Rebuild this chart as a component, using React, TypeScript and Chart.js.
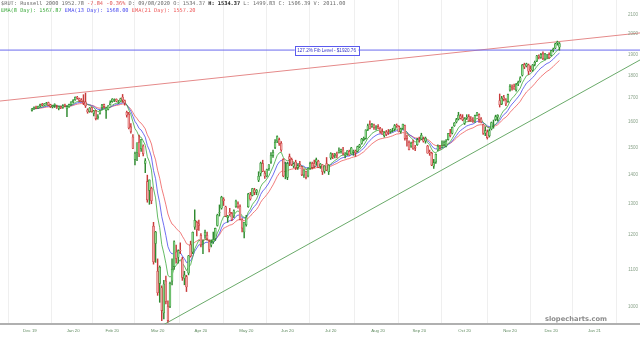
import React, { useEffect, useRef } from 'react';
import { Chart, registerables } from 'chart.js';

Chart.register(...registerables);

// Daily candles of $RUT, Dec 16 2019 .. Dec 21 2020 (index = trading day)
const opens = [
  1648,1655,1662,1658,1668,1673,1670,1677,1681,1672,1664,
  1670,1662,1656,1663,1660,1670,1655,1663,1673,1684,1693,1705,1698,1692,1684,1684,1650,1643,1660,1635,1645,
  1618,1635,1660,1672,1648,1652,1672,1685,1690,1695,1682,1688,1705,1690,1640,1632,1580,1540,1455,
  1480,1520,1495,1505,1440,1375,1345,1352,1228,1175,1095,1062,1050,985,1068,1002,1002,1068,1108,1150,1135,1155,
  1130,1075,1080,1090,1172,1150,1225,1240,1235,1200,1175,1200,1200,1180,1170,1180,1190,1230,1270,1285,1315,
  1290,1255,1272,1268,1260,1290,1300,1290,1248,1210,1232,1290,1330,1328,1346,1338,1380,1405,1440,1405,
  1395,1422,1445,1470,1500,1525,1530,1516,1455,1420,1390,1465,1455,1430,1445,1425,1438,1428,1398,1410,1395,1422,
  1440,1440,1445,1448,1430,1435,1412,1440,1410,1460,1470,1470,1475,1480,1485,1490,1472,1476,1485,1475,1485,1486,
  1485,1502,1515,1530,1535,1570,1590,1582,1588,1578,1582,1575,1560,1545,1560,1560,1562,1570,1572,1588,1582,
  1562,1575,1585,1540,1520,1505,1520,1500,1510,1532,1532,1532,1525,1505,1482,1478,1430,1445,1490,1502,1500,
  1512,1505,1530,1555,1555,1585,1600,1612,1625,1618,1595,1616,1622,1610,1605,1604,1628,1630,1612,1590,1555,1560,
  1545,1572,1590,1610,1620,1690,1675,1705,1692,1685,1735,1748,1750,1735,1762,1775,1802,1852,1845,1850,
  1830,1825,1852,1868,1892,1885,1902,1878,1895,1900,1895,1920,1930,1955,1935,
];
const highs = [
  1656,1663,1666,1666,1675,1678,1677,1682,1683,1674,1670,
  1676,1670,1665,1666,1672,1674,1668,1674,1685,1694,1706,1708,1700,1698,1715,1722,1655,1660,1662,1648,1648,
  1630,1648,1673,1675,1662,1668,1688,1698,1697,1697,1690,1700,1716,1692,1645,1640,1594,1550,1482,
  1518,1548,1530,1510,1458,1398,1381,1356,1240,1212,1130,1110,1055,1070,1082,1016,1065,1130,1183,1170,1156,1177,
  1135,1095,1084,1140,1182,1210,1280,1244,1247,1205,1186,1216,1210,1186,1186,1210,1222,1266,1296,1325,1320,
  1292,1262,1285,1272,1280,1312,1306,1296,1252,1240,1262,1335,1338,1352,1352,1348,1410,1445,1452,1412,
  1420,1436,1480,1490,1530,1545,1536,1522,1458,1445,1445,1475,1460,1442,1452,1436,1448,1430,1418,1412,1424,1445,
  1445,1452,1460,1452,1440,1436,1432,1462,1436,1480,1478,1478,1482,1498,1494,1500,1480,1488,1490,1500,1490,1490,
  1505,1512,1535,1540,1568,1592,1605,1595,1592,1586,1590,1578,1572,1560,1566,1570,1570,1575,1590,1592,1585,
  1575,1592,1588,1548,1525,1520,1528,1508,1535,1540,1555,1540,1540,1508,1490,1482,1455,1476,1510,1508,1525,
  1525,1530,1555,1570,1580,1598,1615,1640,1632,1630,1618,1630,1630,1622,1618,1628,1640,1634,1618,1592,1580,1568,
  1572,1600,1608,1628,1630,1718,1708,1712,1698,1718,1760,1758,1762,1765,1775,1795,1852,1858,1858,1854,
  1845,1852,1868,1895,1898,1905,1912,1905,1900,1908,1920,1930,1955,1965,1958,
];
const lows = [
  1645,1652,1655,1656,1664,1668,1669,1673,1668,1660,1658,
  1660,1656,1650,1655,1656,1662,1622,1660,1670,1680,1690,1696,1685,1684,1672,1660,1636,1640,1640,1625,1608,
  1612,1632,1650,1658,1615,1650,1670,1682,1685,1684,1677,1686,1682,1670,1620,1572,1555,1495,1435,
  1450,1465,1485,1468,1407,1305,1298,1300,1115,1120,1030,1012,966,970,1008,962,998,1058,1100,1118,1118,1145,
  1070,1058,1040,1085,1135,1145,1218,1198,1215,1165,1145,1190,1185,1150,1165,1175,1184,1228,1260,1282,1294,
  1258,1240,1262,1245,1255,1288,1285,1248,1210,1192,1228,1288,1312,1326,1330,1330,1375,1395,1410,1386,
  1392,1415,1440,1462,1495,1518,1508,1485,1392,1385,1382,1432,1432,1425,1418,1418,1428,1396,1390,1385,1392,1418,
  1420,1425,1435,1425,1422,1400,1405,1414,1400,1455,1458,1460,1460,1478,1478,1472,1460,1470,1470,1474,1470,1466,
  1482,1498,1512,1525,1532,1565,1572,1578,1570,1568,1572,1555,1550,1540,1545,1550,1555,1560,1565,1578,1560,
  1555,1570,1528,1505,1490,1500,1492,1488,1508,1520,1530,1520,1516,1480,1470,1432,1422,1440,1488,1492,1498,
  1505,1502,1528,1540,1552,1582,1596,1608,1612,1605,1590,1610,1602,1602,1598,1598,1625,1598,1596,1550,1545,1532,
  1540,1568,1575,1605,1605,1662,1672,1688,1668,1682,1730,1735,1738,1730,1755,1770,1798,1832,1840,1805,
  1818,1820,1845,1865,1878,1880,1875,1872,1880,1880,1892,1912,1928,1945,1920,
];
const closes = [
  1654,1661,1658,1665,1672,1670,1676,1679,1671,1664,1668,
  1672,1661,1664,1660,1667,1667,1663,1673,1683,1690,1704,1700,1690,1686,1681,1667,1641,1658,1643,1646,1614,
  1622,1646,1671,1664,1658,1667,1680,1696,1694,1687,1684,1698,1692,1679,1628,1576,1562,1497,1476,
  1518,1475,1530,1476,1450,1313,1381,1310,1122,1210,1037,1106,991,1060,1014,966,1062,1101,1180,1131,1154,1153,
  1078,1085,1052,1139,1138,1209,1246,1217,1230,1171,1178,1209,1189,1158,1177,1187,1221,1263,1271,1322,1310,
  1260,1260,1266,1248,1277,1309,1292,1250,1222,1240,1256,1333,1316,1351,1338,1346,1394,1441,1412,1394,
  1418,1435,1470,1482,1520,1542,1515,1490,1395,1420,1440,1455,1436,1439,1425,1432,1436,1399,1416,1390,1423,1441,
  1426,1431,1454,1426,1438,1410,1431,1416,1434,1477,1465,1474,1471,1487,1492,1478,1474,1487,1471,1498,1486,1480,
  1503,1510,1532,1535,1568,1585,1574,1590,1578,1580,1576,1562,1552,1558,1550,1558,1568,1570,1586,1585,1561,
  1572,1591,1535,1535,1491,1516,1495,1497,1530,1531,1547,1524,1535,1478,1480,1434,1443,1474,1504,1501,1507,
  1518,1524,1554,1545,1578,1596,1610,1628,1615,1609,1614,1620,1605,1608,1602,1626,1638,1610,1600,1555,1565,1538,
  1565,1598,1590,1622,1628,1672,1700,1695,1675,1715,1752,1745,1740,1760,1770,1790,1850,1840,1855,1820,
  1828,1850,1862,1893,1885,1900,1880,1902,1895,1884,1918,1925,1952,1960,1953,
];

const xTickIndex = [-1, 20, 39, 61, 82, 104, 124, 145, 168, 188, 210, 232, 252, 273];
const xTickLabels = ['Dec 19', 'Jan 20', 'Feb 20', 'Mar 20', 'Apr 20', 'May 20', 'Jun 20', 'Jul 20', 'Aug 20', 'Sep 20', 'Oct 20', 'Nov 20', 'Dec 20', 'Jan 21'];
const yTickValues = [1000, 1100, 1200, 1300, 1400, 1500, 1600, 1700, 1800, 1900, 2000, 2100];

const emaPeriods = [8, 13, 21];
const emaColors = ['#3daa3d', '#4a4aee', '#ee5a5a'];

const fibLevel = 1920.76;
const fibLabel = '127.2% Fib Level - $1920.76';
const fibLabelIndex = 143;
const resistanceAnchors = [[26, 1727], [255, 1962]];
const supportAnchors = [[66, 962], [221, 1510]];

const headerLine1: [string, string, boolean][] = [
  ['$RUT: Russell 2000 1952.78 ', '#6a6a6a', false],
  ['-7.84 -0.36% ', '#e05050', false],
  ['D: 09/08/2020 O: 1534.37 ', '#6a6a6a', false],
  ['H: 1534.37', '#222222', true],
  [' L: 1499.83 C: 1506.39 V: 2011.00', '#6a6a6a', false],
];
const headerLine2: [string, string, boolean][] = [
  ['EMA(8 Day): 1567.87 ', '#3daa3d', false],
  ['EMA(13 Day): 1568.00 ', '#4a4aee', false],
  ['EMA(21 Day): 1557.20', '#ee5a5a', false],
];

const X_MIN = -15.5;
const X_MAX = 295.1;
const Y_MIN = 957.7;
const Y_MAX = 2181.4;

function ema(values: number[], n: number) {
  const k = 2 / (n + 1);
  const out: number[] = [];
  values.forEach((v, i) => {
    out.push(i === 0 ? v : v * k + out[i - 1] * (1 - k));
  });
  return out;
}

function trendAt(anchors: number[][], x: number) {
  const [[x1, v1], [x2, v2]] = anchors;
  const l1 = Math.log(v1), l2 = Math.log(v2);
  return Math.exp(l1 + ((l2 - l1) * (x - x1)) / (x2 - x1));
}

const UP_FILL = '#8edb8e';
const UP_LINE = '#2f8a2f';
const DN_FILL = '#f2a4a4';
const DN_LINE = '#c83a3a';

const overlayPlugin = {
  id: 'overlay',
  afterDraw(chart: any) {
    const { ctx, chartArea } = chart;
    const xs = chart.scales.x;
    const ys = chart.scales.y;
    ctx.save();
    // y tick labels (inside the plot, right side)
    ctx.font = '4.5px "Liberation Sans"';
    ctx.fillStyle = '#8aa38a';
    ctx.textAlign = 'right';
    ctx.textBaseline = 'middle';
    yTickValues.forEach((v) => {
      ctx.fillText(String(v), chartArea.right - 2, ys.getPixelForValue(v));
    });

    // Fib label
    const px = xs.getPixelForValue(fibLabelIndex);
    const py = ys.getPixelForValue(fibLevel);
    ctx.font = '4.6px "Liberation Sans"';
    const tw = ctx.measureText(fibLabel).width;
    const bw = tw + 5;
    const bh = 9;
    ctx.fillStyle = '#ffffff';
    ctx.fillRect(px - bw / 2, py - bh / 2, bw, bh);
    ctx.strokeStyle = '#5a5aee';
    ctx.lineWidth = 1;
    ctx.strokeRect(Math.round(px - bw / 2) + 0.5, Math.round(py - bh / 2) + 0.5, Math.round(bw), bh);
    ctx.fillStyle = '#3535c8';
    ctx.textAlign = 'center';
    ctx.textBaseline = 'middle';
    ctx.fillText(fibLabel, px, py + 0.5);

    // watermark
    ctx.font = 'bold 9px "DejaVu Sans"';
    const ww = ctx.measureText('slopecharts.com').width;
    const fs = (9 * 62) / ww;
    ctx.font = `bold ${fs}px "DejaVu Sans"`;
    ctx.fillStyle = '#8c8c8c';
    ctx.textAlign = 'left';
    ctx.textBaseline = 'middle';
    ctx.fillText('slopecharts.com', chartArea.right - 95, chartArea.bottom - 5);

    // header
    const drawLine = (segs: [string, string, boolean][], y: number) => {
      let x = 1;
      ctx.textAlign = 'left';
      ctx.textBaseline = 'middle';
      segs.forEach(([t, c, b]) => {
        ctx.font = `${b ? 'bold ' : ''}5.3px "DejaVu Sans Mono"`;
        ctx.fillStyle = c;
        ctx.fillText(t, x, y);
        x += ctx.measureText(t).width;
      });
    };
    drawLine(headerLine1, 4);
    drawLine(headerLine2, 11);
    ctx.restore();
  },
};

export default function App() {
  const ref = useRef<HTMLCanvasElement>(null);
  useEffect(() => {
    document.body.style.margin = '0';
    const idx = closes.map((_, i) => i);
    const isUp = closes.map((c, i) => c >= opens[i]);
    const wickData = idx.map((i) => ({ x: i, y: [Math.min(lows[i], opens[i], closes[i]), Math.max(highs[i], opens[i], closes[i])] }));
    const bodyData = idx.map((i) => ({ x: i, y: [opens[i], closes[i]] }));
    const emaSets = emaPeriods.map((p, k) => {
      const e = ema(closes, p);
      return {
        type: 'line' as const,
        data: idx.map((i) => ({ x: i, y: e[i] })),
        borderColor: emaColors[k],
        borderWidth: 0.8,
        pointRadius: 0,
        tension: 0,
        order: 3,
      };
    });
    const chart = new Chart(ref.current as HTMLCanvasElement, {
      type: 'bar',
      data: {
        datasets: [
          {
            type: 'line',
            data: [X_MIN, X_MAX].map((x) => ({ x, y: fibLevel })),
            borderColor: '#6a6aee',
            borderWidth: 1,
            pointRadius: 0,
            order: 10,
          },
          {
            type: 'line',
            data: [X_MIN, X_MAX].map((x) => ({ x, y: trendAt(resistanceAnchors, x) })),
            borderColor: '#e58a8a',
            borderWidth: 1,
            pointRadius: 0,
            order: 10,
          },
          {
            type: 'line',
            data: [X_MIN, X_MAX].map((x) => ({ x, y: trendAt(supportAnchors, x) })),
            borderColor: '#6aaa6a',
            borderWidth: 1,
            pointRadius: 0,
            order: 10,
          },
          ...emaSets,
          {
            type: 'bar',
            data: wickData as any,
            backgroundColor: isUp.map((u) => (u ? UP_LINE : DN_LINE)),
            barThickness: 0.8,
            grouped: false,
            order: 2,
          } as any,
          {
            type: 'bar',
            data: bodyData as any,
            backgroundColor: isUp.map((u) => (u ? UP_FILL : DN_FILL)),
            borderColor: isUp.map((u) => (u ? UP_LINE : DN_LINE)),
            borderWidth: 0.6,
            borderSkipped: false,
            barThickness: 1.9,
            grouped: false,
            order: 1,
          } as any,
        ],
      },
      options: {
        animation: false,
        responsive: false,
        devicePixelRatio: 1,
        layout: { padding: 0 },
        plugins: { legend: { display: false }, tooltip: { enabled: false } },
        events: [],
        scales: {
          x: {
            type: 'linear',
            min: X_MIN,
            max: X_MAX,
            offset: false,
            afterBuildTicks: (s: any) => {
              s.ticks = xTickIndex.map((v) => ({ value: v }));
            },
            afterFit: (s: any) => {
              s.height = 14;
            },
            ticks: {
              autoSkip: false,
              maxRotation: 0,
              padding: 4,
              font: { size: 4.3, family: 'Liberation Sans' },
              color: '#5f8a5f',
              callback: (_v: any, i: number) => xTickLabels[i],
            },
            grid: { color: '#efefef', drawTicks: false, lineWidth: 1 },
            border: { color: '#b0b0b0', width: 2 },
          },
          y: {
            type: 'logarithmic',
            position: 'right',
            min: Y_MIN,
            max: Y_MAX,
            afterBuildTicks: (s: any) => {
              s.ticks = yTickValues.map((v) => ({ value: v }));
            },
            afterFit: (s: any) => {
              s.width = 0;
            },
            ticks: { display: false },
            grid: { display: false, drawTicks: false },
            border: { display: false },
          },
        },
      } as any,
      plugins: [overlayPlugin],
    });
    return () => chart.destroy();
  }, []);
  return (
    <div style={{ position: 'fixed', left: 0, top: 0, width: 640, height: 338, background: '#fff' }}>
      <canvas ref={ref} width={640} height={338} />
    </div>
  );
}
